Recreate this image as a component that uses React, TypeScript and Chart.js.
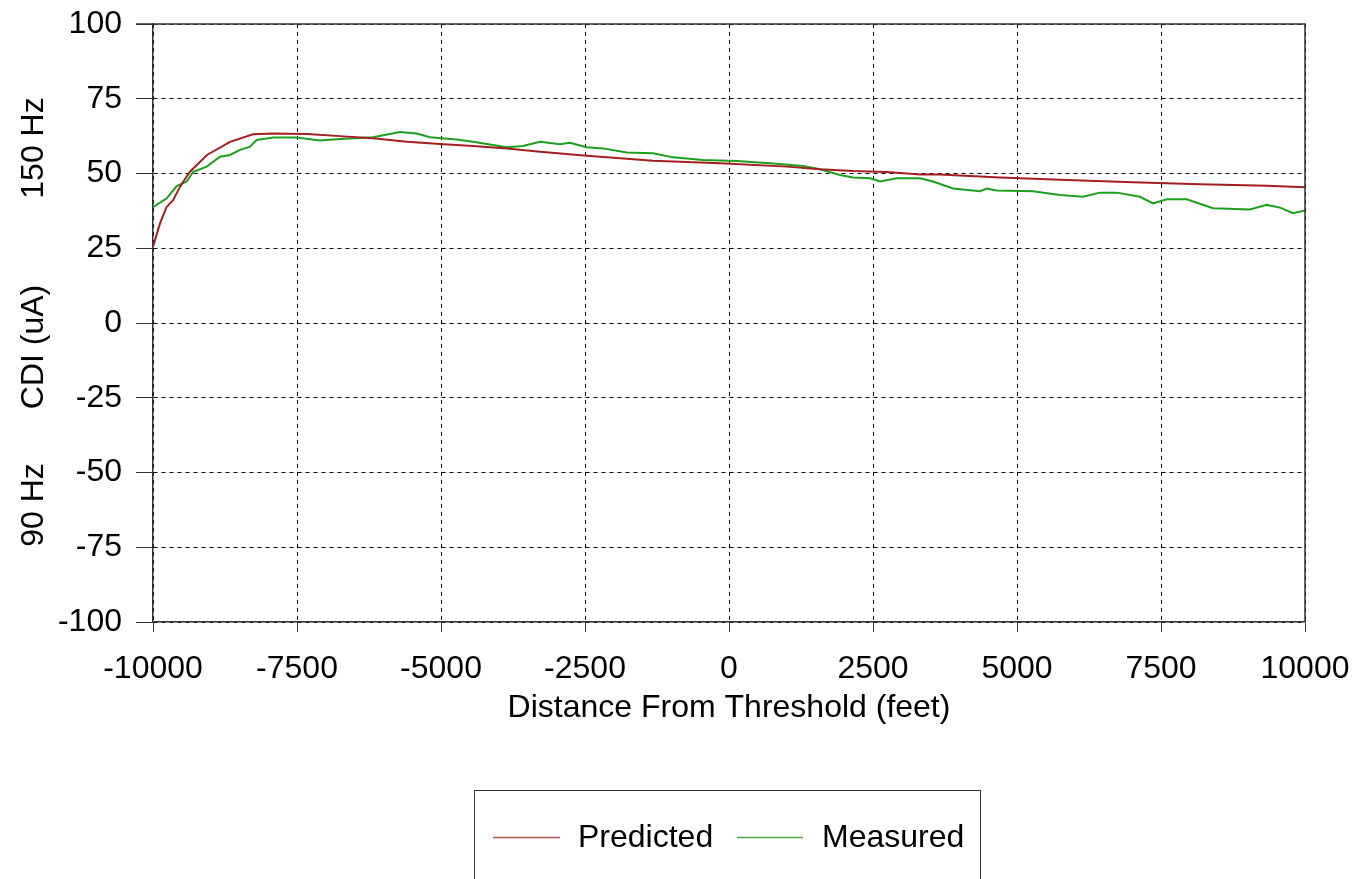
import React, { useEffect, useRef } from "react";
import { Chart, registerables } from "chart.js";

Chart.register(...registerables);

const xTicks = [-10000, -7500, -5000, -2500, 0, 2500, 5000, 7500, 10000];
const yTicks = [-100, -75, -50, -25, 0, 25, 50, 75, 100];

const predictedX = [-10000, -9878, -9762, -9653, -9531, -9358, -9063, -8663, -8264, -7917, -7326, -6753, -6181, -5590, -5017, -4444, -3854, -3281, -2465, -1319, -156, 1007, 1580, 2153, 2743, 3316, 3663, 4705, 5868, 7014, 8177, 9340, 10000];
const predictedY = [25.5, 33.3, 38.9, 41, 45.6, 50.6, 56.2, 60.6, 63.1, 63.4, 63.2, 62.5, 61.8, 60.6, 59.9, 59.2, 58.4, 57.3, 55.9, 54.3, 53.4, 52.3, 51.4, 50.8, 50.5, 49.7, 49.7, 48.7, 47.8, 47.1, 46.4, 45.9, 45.4];

const measuredX = [-10000, -9762, -9588, -9415, -9300, -9068, -8837, -8663, -8490, -8316, -8200, -7911, -7505, -7101, -6753, -6181, -5712, -5422, -5191, -4727, -4444, -3859, -3576, -3281, -2934, -2760, -2471, -2188, -1776, -1319, -972, -451, 134, 712, 1285, 1580, 1927, 2153, 2448, 2622, 2911, 3316, 3542, 3889, 4358, 4474, 4647, 5278, 5747, 6146, 6441, 6731, 7135, 7361, 7599, 7946, 8403, 9045, 9335, 9566, 9792, 10000];
const measuredY = [38.7, 41.7, 45.8, 47.3, 50.6, 52.3, 55.6, 56.2, 57.9, 59.0, 61.2, 62.0, 62.0, 61.0, 61.5, 62.1, 63.9, 63.4, 62.1, 61.4, 60.6, 58.8, 59.2, 60.6, 59.8, 60.3, 58.8, 58.4, 57.0, 56.8, 55.4, 54.5, 54.2, 53.4, 52.5, 51.4, 49.5, 48.7, 48.4, 47.3, 48.4, 48.4, 47.3, 45.0, 44.1, 45.0, 44.3, 44.1, 42.8, 42.2, 43.6, 43.6, 42.2, 40.0, 41.4, 41.4, 38.4, 38.0, 39.5, 38.6, 36.7, 37.6];

const seriesNames = ["Predicted", "Measured"];
const seriesColors = ["#a31f1f", "#1e9e1e"];
const legendColors = ["#b5524f", "#4aa84a"];
const yTitleParts = ["150 Hz", "CDI (uA)", "90 Hz"];
const xTitle = "Distance From Threshold (feet)";

const FONT = "'Liberation Sans', Arial, sans-serif";

const extrasPlugin = {
  id: "extras",
  afterDraw(chart: any) {
    const ctx = chart.ctx;
    const ca = chart.chartArea;
    ctx.save();
    // frame (top and right)
    ctx.strokeStyle = "#333";
    ctx.lineWidth = 1.5;
    ctx.beginPath();
    ctx.moveTo(ca.left - 17, ca.top);
    ctx.lineTo(ca.right, ca.top);
    ctx.lineTo(ca.right, ca.bottom);
    ctx.stroke();

    // y title pieces
    ctx.fillStyle = "#000";
    ctx.font = `32px ${FONT}`;
    ctx.textAlign = "center";
    ctx.textBaseline = "middle";
    const centers = [148, 347, 505];
    yTitleParts.forEach((t, i) => {
      ctx.save();
      ctx.translate(34, centers[i]);
      ctx.rotate(-Math.PI / 2);
      ctx.fillText(t, 0, 0);
      ctx.restore();
    });

    // legend box
    ctx.strokeStyle = "#333";
    ctx.lineWidth = 1;
    ctx.strokeRect(474.5, 790.5, 506, 120);
    const items = [
      { x1: 493, x2: 560, tx: 578 },
      { x1: 737, x2: 803, tx: 822 },
    ];
    items.forEach((it, i) => {
      ctx.strokeStyle = legendColors[i];
      ctx.lineWidth = 1.5;
      ctx.beginPath();
      ctx.moveTo(it.x1, 837.5);
      ctx.lineTo(it.x2, 837.5);
      ctx.stroke();
      ctx.fillStyle = "#000";
      ctx.textAlign = "left";
      ctx.textBaseline = "middle";
      ctx.fillText(seriesNames[i], it.tx, 838);
    });
    ctx.restore();
  },
};

const zeroPad = (s: any) => {
  s.paddingLeft = 0;
  s.paddingRight = 0;
  s.paddingTop = 0;
  s.paddingBottom = 0;
};

export default function App() {
  const ref = useRef<HTMLCanvasElement>(null);
  useEffect(() => {
    if (!ref.current) return;
    const chart = new Chart(ref.current, {
      type: "line",
      data: {
        datasets: [
          {
            label: seriesNames[0],
            data: predictedX.map((x, i) => ({ x, y: predictedY[i] })),
            borderColor: seriesColors[0],
            borderWidth: 2,
            pointRadius: 0,
            tension: 0,
            fill: false,
          },
          {
            label: seriesNames[1],
            data: measuredX.map((x, i) => ({ x, y: measuredY[i] })),
            borderColor: seriesColors[1],
            borderWidth: 2,
            pointRadius: 0,
            tension: 0,
            fill: false,
          },
        ],
      },
      options: {
        responsive: false,
        animation: false,
        layout: { padding: { left: 0, top: 24, right: 48, bottom: 152 } },
        plugins: {
          legend: { display: false },
          tooltip: { enabled: false },
          title: { display: false },
        },
        scales: {
          x: {
            type: "linear",
            min: -10000,
            max: 10000,
            afterBuildTicks: (s: any) => {
              s.ticks = xTicks.map((v) => ({ value: v }));
            },
            afterFit: (s: any) => {
              s.height = 105;
              zeroPad(s);
            },
            ticks: {
              color: "#000",
              font: { family: FONT, size: 32 },
              padding: 18,
              maxRotation: 0,
              autoSkip: false,
              callback: (v: any) => String(v),
            },
            grid: {
              color: "#000",
              lineWidth: 1,
              tickLength: 10,
              tickColor: "#333",
              tickBorderDash: [],
            },
            border: { display: true, color: "#333", width: 1.5, dash: [4, 4] },
            title: {
              display: true,
              text: xTitle,
              color: "#000",
              font: { family: FONT, size: 32 },
              padding: { top: 0, bottom: 0 },
            },
          },
          y: {
            type: "linear",
            min: -100,
            max: 100,
            afterBuildTicks: (s: any) => {
              s.ticks = yTicks.map((v) => ({ value: v }));
            },
            afterFit: (s: any) => {
              s.width = 153;
              zeroPad(s);
            },
            ticks: {
              color: "#000",
              font: { family: FONT, size: 32 },
              padding: 14,
              autoSkip: false,
              callback: (v: any) => String(v),
            },
            grid: {
              color: "#000",
              lineWidth: 1,
              tickLength: 17,
              tickColor: "#333",
              tickBorderDash: [],
            },
            border: { display: true, color: "#333", width: 1.5, dash: [4, 4] },
          },
        },
      },
      plugins: [extrasPlugin],
    } as any);
    return () => chart.destroy();
  }, []);
  return (
    <div style={{ position: "fixed", left: 0, top: 0, width: 1353, height: 879, background: "#fff" }}>
      <canvas ref={ref} width={1353} height={879} style={{ width: 1353, height: 879, display: "block" }} />
    </div>
  );
}
